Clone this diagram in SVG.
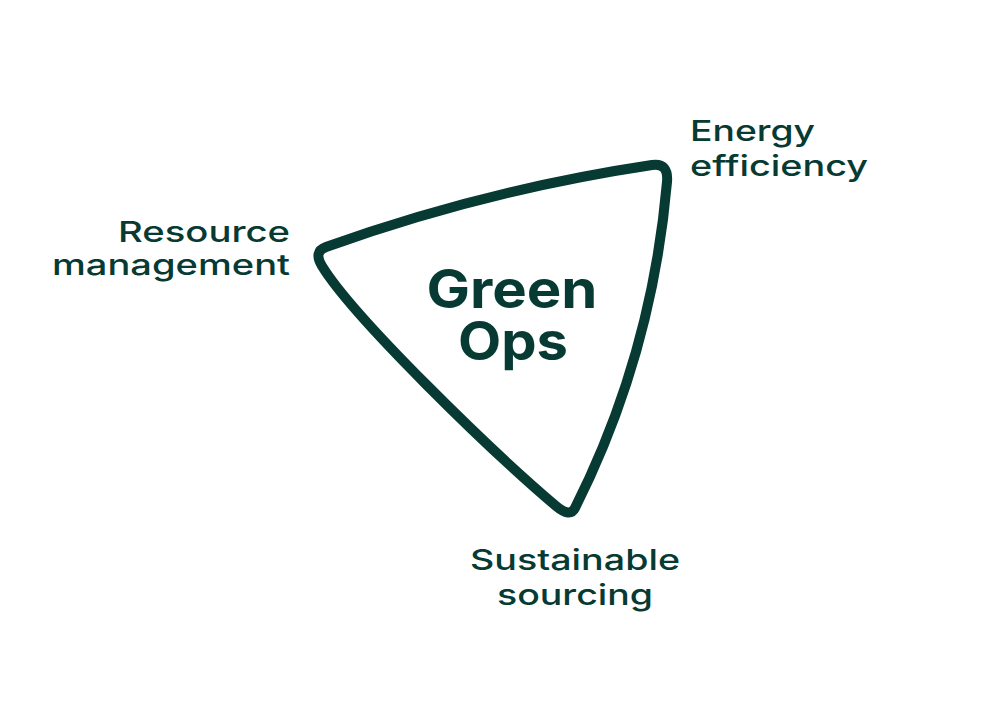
<svg xmlns="http://www.w3.org/2000/svg" width="1000" height="707" viewBox="0 0 1000 707">
  <style>
    .lbl { font-family: Inter, "Liberation Sans", sans-serif; font-size: 29px; font-weight: 500; fill: #063a33; }
    .ttl { font-family: Inter, "Liberation Sans", sans-serif; font-size: 53px; font-weight: 700; fill: #063a33; }
    .tri { fill: none; stroke: #063a33; stroke-width: 10; stroke-linejoin: round; stroke-linecap: round; }
  </style>
  <rect width="1000" height="707" fill="#ffffff"/>
  <g id="connectors">
    <path class="tri" d="M 326,247 Q 485,190 652,165 Q 668.7,162.5 667,182 Q 652,355 575,508 Q 570,517.9 556,506 C 490,450 353,317 322,266 Q 313.2,251.6 326,247 Z"/>
  </g>
  <g id="center">
    <text class="ttl" x="512" y="308" text-anchor="middle" textLength="171" lengthAdjust="spacingAndGlyphs">Green</text>
    <text class="ttl" x="513" y="360" text-anchor="middle" textLength="110" lengthAdjust="spacingAndGlyphs">Ops</text>
  </g>
  <g id="resource">
    <text class="lbl" x="290" y="242" text-anchor="end" textLength="172" lengthAdjust="spacingAndGlyphs">Resource</text>
    <text class="lbl" x="290" y="275" text-anchor="end" textLength="238" lengthAdjust="spacingAndGlyphs">management</text>
  </g>
  <g id="energy">
    <text class="lbl" x="690" y="141" textLength="125" lengthAdjust="spacingAndGlyphs">Energy</text>
    <text class="lbl" x="690" y="176" textLength="178" lengthAdjust="spacingAndGlyphs">efficiency</text>
  </g>
  <g id="sourcing">
    <text class="lbl" x="575" y="570" text-anchor="middle" textLength="210" lengthAdjust="spacingAndGlyphs">Sustainable</text>
    <text class="lbl" x="575" y="605" text-anchor="middle" textLength="156" lengthAdjust="spacingAndGlyphs">sourcing</text>
  </g>
</svg>
